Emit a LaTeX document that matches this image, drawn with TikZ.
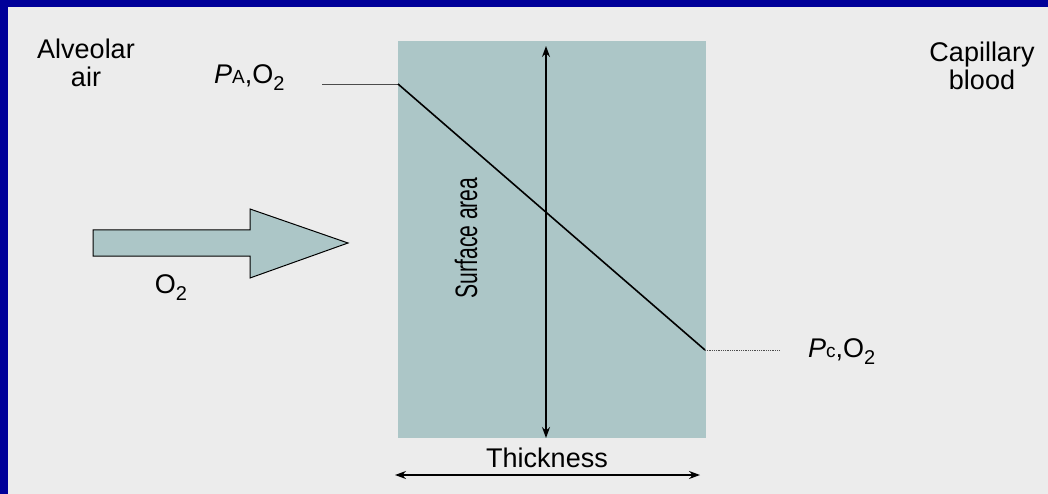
\documentclass[tikz,border=0pt]{standalone}
\usepackage{fontspec}
\setmainfont{Liberation Sans}
\usetikzlibrary{arrows.meta}
\definecolor{frameblue}{RGB}{0,0,153}
\definecolor{bggray}{RGB}{236,236,236}
\definecolor{membrane}{RGB}{172,198,199}
\tikzset{
  lbl/.style={inner sep=0pt, font=\fontsize{27}{28}\selectfont, align=center},
  thinline/.style={draw=black!70, line width=0.8pt},
  dimarrow/.style={draw=black, line width=1.4pt, {Stealth[length=11pt,width=8pt]}-{Stealth[length=11pt,width=8pt]}},
}
\newcommand{\subtwo}{\raisebox{-7pt}{\fontsize{20}{20}\selectfont 2}}
\begin{document}
\begin{tikzpicture}[x=1pt,y=-1pt]
\useasboundingbox (0,0) rectangle (1048,494);
\fill[frameblue] (0,0) rectangle (1048,494);
\fill[bggray] (8,7) rectangle (1048,494);
% membrane
\node[draw=none, fill=membrane, minimum width=308pt, minimum height=397pt, inner sep=0pt, anchor=north west] (mem) at (398,41) {};
% partial pressure lines
\coordinate (pa) at (398,84);
\coordinate (pc) at (705,350);
\coordinate (paend) at (322,84);
\coordinate (pcend) at (780,350);
\draw[thinline] (paend) -- (pa);
\draw[thinline, densely dotted] (pc) -- (pcend);
\draw[black, line width=1.6pt] (pa) -- (pc);
% surface area arrow
\coordinate (satop) at (546,46);
\coordinate (sabot) at (546,438);
\draw[dimarrow] (sabot) -- (satop);
\node[lbl, rotate=90] (sa) at (466,238) {\scalebox{0.68}[1]{\fontsize{31}{34}\selectfont Surface area}};
% thickness
\node[lbl] (thick) at (547,458) {Thickness};
\coordinate (thl) at (395,475);
\coordinate (thr) at (700,475);
\draw[dimarrow, line width=1.2pt] (thl) -- (thr);
% labels
\node[lbl] (alv) at (86,63) {Alveolar\\air};
\node[lbl] (cap) at (982,66) {Capillary\\blood};
\node[lbl, anchor=west] (paO2) at (214,78) {{\itshape P}{\fontsize{19}{19}\selectfont A},O\subtwo};
\node[lbl, anchor=west] (pcO2) at (808,352) {{\itshape P}{\fontsize{19}{19}\selectfont c},O\subtwo};
% big O2 arrow
\draw[black, line width=1pt, fill=membrane] (93,230) -- (250,230) -- (250,209) -- (348,243) -- (250,278) -- (250,256) -- (93,256) -- cycle;
\node[lbl] (o2) at (171,288) {O\subtwo};
\end{tikzpicture}
\end{document}
